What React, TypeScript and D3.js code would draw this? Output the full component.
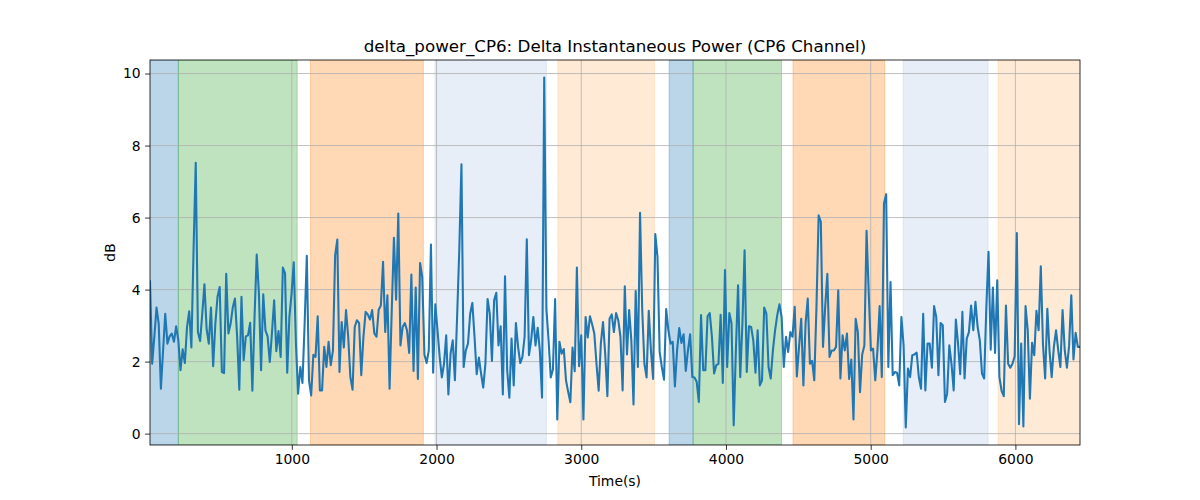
import { useEffect, useRef } from "react";
import * as d3 from "d3";

// sampling of the signal (seconds)
const START_TIME = 20;
const SAMPLE_STEP = 15.05;

// delta power values (dB)
const deltaPower: number[] = [
    4.23, 1.94, 2.7, 3.5, 3.05, 1.25, 2.3, 3.33, 2.5, 2.7,
    2.78, 2.55, 2.98, 2.6, 1.76, 2.34, 1.96, 2.96, 3.4, 2.39,
    5.1, 7.52, 2.82, 2.57, 3.33, 4.15, 2.9, 2.5, 3.5, 1.87,
    3.05, 3.8, 4.07, 1.71, 1.68, 4.44, 2.78, 3.05, 3.5, 3.75,
    2.7, 1.22, 3.8, 2.04, 2.7, 2.73, 3.08, 1.19, 3.24, 4.97,
    3.9, 1.76, 3.87, 2.87,
    2.7, 1.99, 2.8, 3.7, 2.29, 2.85, 2.13, 4.61, 4.46, 1.69,
    3.24, 3.89, 4.76, 2.5, 1.11, 1.85, 1.41, 3.05, 4.94, 1.48,
    1.06, 2.19, 2.13, 3.26, 1.2, 1.2, 2.41, 1.85, 2.55, 1.9,
    2.31, 4.95, 5.39, 1.71, 3.1, 2.39, 3.43, 2.69, 1.57, 1.22,
    2.96, 3.15, 3.07, 1.62, 2.69, 3.38, 3.31, 3.17, 3.43, 2.78,
    2.69, 3.44, 3.56,
    4.77, 2.82, 3.84, 1.25, 3.43, 5.44, 3.72, 6.11, 2.45, 2.96,
    3.07, 2.87, 2.24, 4.42, 1.74, 4.06, 1.52, 4.74, 4.35, 2.2,
    1.96, 2.31, 5.25, 1.69, 3.59, 2.87, 2.13, 1.56, 1.94, 2.73,
    1.09, 2.22, 2.59, 1.48, 3.24, 5.09, 7.48, 1.85, 2.31, 2.5,
    3.33, 3.63, 2.69, 1.65, 2.11, 1.67, 1.28, 1.94, 3.74, 3.33,
    2.02, 3.7, 3.91, 2.45,
    2.98, 1.09, 4.37, 1.76, 1.0, 2.64, 1.34, 3.07, 2.41, 1.96,
    2.13, 2.69, 5.4, 2.18, 2.59, 3.24, 2.45, 2.94, 2.3, 1.0,
    9.89, 3.47, 2.59, 1.56, 1.78, 3.74, 0.39, 2.55, 2.22, 2.35,
    1.48, 1.16, 0.87, 2.39, 1.73, 4.61, 1.87, 2.73, 0.39, 3.24,
    2.67, 3.26, 3.04, 2.78, 1.94, 1.19, 2.5, 3.1, 2.22, 1.04,
    3.19, 3.31, 2.82, 3.35,
    3.15, 2.69, 1.2, 4.09, 2.2, 3.43, 2.59, 0.81, 3.96, 1.85,
    6.13, 3.44, 1.94, 1.56, 3.41, 2.31, 1.52, 5.54, 4.91, 2.27,
    1.85, 1.5, 3.46, 2.87, 2.5, 2.55, 1.31, 2.31, 2.93, 2.52,
    2.76, 1.74, 2.31, 2.76, 1.57, 1.56, 1.44, 0.88, 3.29, 1.76,
    1.76, 3.26, 3.35, 2.69, 1.67, 1.9, 1.94, 3.3, 1.41, 4.54,
    1.85, 3.35, 3.06, 0.23,
    2.31, 4.12, 1.57, 3.06, 5.09, 1.71, 2.98, 2.96, 2.59, 1.69,
    2.87, 1.34, 1.48, 3.5, 3.33, 1.85, 1.53, 2.31, 2.87, 3.29,
    3.59, 3.24, 1.85, 2.69, 2.27, 2.82, 2.69, 3.52, 1.59, 2.41,
    3.19, 1.34, 3.06, 3.75, 1.94, 2.02, 1.48, 3.52, 6.06, 5.88,
    2.41, 3.52, 4.44, 2.13, 2.31, 2.31, 2.41, 3.98, 1.53, 2.73,
    2.31, 2.78, 1.52, 2.06,
    0.39, 3.19, 2.82, 1.15, 2.2, 2.45, 5.63, 3.89, 2.31, 2.36,
    1.48, 2.31, 3.54, 1.57, 6.39, 6.65, 1.85, 4.21, 1.62, 1.71,
    1.69, 1.34, 3.24, 2.45, 0.17, 1.81, 1.57, 2.18, 2.2, 2.25,
    1.57, 1.25, 3.33, 1.2, 2.5, 2.5, 1.83, 3.54, 3.24, 1.62,
    3.07, 3.01, 0.88, 1.11, 2.45, 1.94, 1.2, 3.17, 2.5, 1.65,
    3.38, 1.53, 2.64, 2.82,
    3.56, 2.87, 3.66, 2.96, 2.59, 1.67, 1.53, 3.52, 5.05, 2.33,
    4.06, 2.24, 4.26, 1.57, 1.19, 1.04, 3.56, 1.94, 1.83, 1.94,
    2.15, 5.57, 0.26, 2.5, 0.2, 3.54, 2.87, 0.97, 2.52, 2.18,
    3.41, 2.87, 4.65, 2.48, 1.53, 3.47, 2.3, 1.57, 2.41, 2.87,
    2.31, 1.85, 3.43, 2.31, 1.83, 2.45, 3.84, 2.06, 2.8, 2.41,
    2.41,
];

// shaded segments: start / end time (s) and colour
const bandStarts = [0, 216, 1129, 1989, 2838, 3607, 3773, 4463, 5225, 5880];
const bandEnds = [216, 1037, 1909, 2759, 3506, 3773, 4384, 5097, 5811, 6600];
const bandColors = [
    "#1f77b4", "#2ca02c", "#ff7f0e", "#aec7e8", "#ffbb78",
    "#1f77b4", "#2ca02c", "#ff7f0e", "#aec7e8", "#ffbb78",
];

const xTicks = [1000, 2000, 3000, 4000, 5000, 6000];
const yTicks = [0, 2, 4, 6, 8, 10];

const FONT = "DejaVu Sans, sans-serif";

export default function App() {
    const chartRef = useRef<SVGSVGElement>(null);

    useEffect(() => {
        document.body.style.margin = "0";
        if (!chartRef.current) return;

        d3.select(chartRef.current).selectAll("*").remove();

        const W = 1200;
        const H = 500;
        const margin = { top: 60, right: 120, bottom: 55, left: 150 };
        const width = W - margin.left - margin.right;
        const height = H - margin.top - margin.bottom;

        const points = deltaPower.map((v, i) => ({ t: START_TIME + i * SAMPLE_STEP, v }));

        const svg = d3
            .select(chartRef.current)
            .attr("width", W)
            .attr("height", H)
            .style("font-family", FONT);

        svg.append("rect").attr("width", W).attr("height", H).attr("fill", "#fff");

        const g = svg.append("g").attr("transform", `translate(${margin.left},${margin.top})`);

        // x spans data, y gets matplotlib's 5% margin
        const x = d3
            .scaleLinear()
            .domain(d3.extent(points, (d) => d.t) as [number, number])
            .range([0, width]);
        const [vMin, vMax] = d3.extent(deltaPower) as [number, number];
        const pad = (vMax - vMin) * 0.05;
        const y = d3.scaleLinear().domain([vMin - pad, vMax + pad]).range([height, 0]);

        g.append("clipPath")
            .attr("id", "plot-clip")
            .append("rect")
            .attr("width", width)
            .attr("height", height);

        const plot = g.append("g").attr("clip-path", "url(#plot-clip)");

        // shaded segments
        plot.selectAll(".band")
            .data(bandStarts)
            .enter()
            .append("rect")
            .attr("class", "band")
            .attr("x", (d) => x(d))
            .attr("width", (d, i) => x(bandEnds[i]) - x(d))
            .attr("y", 0)
            .attr("height", height)
            .attr("fill", (d, i) => bandColors[i])
            .attr("fill-opacity", 0.3)
            .attr("stroke", (d, i) => bandColors[i])
            .attr("stroke-opacity", 0.3)
            .attr("stroke-width", 1);

        // grid
        plot.selectAll(".xgrid")
            .data(xTicks)
            .enter()
            .append("line")
            .attr("x1", (d) => x(d))
            .attr("x2", (d) => x(d))
            .attr("y1", 0)
            .attr("y2", height)
            .attr("stroke", "#b0b0b0")
            .attr("stroke-width", 0.8);

        plot.selectAll(".ygrid")
            .data(yTicks)
            .enter()
            .append("line")
            .attr("x1", 0)
            .attr("x2", width)
            .attr("y1", (d) => y(d))
            .attr("y2", (d) => y(d))
            .attr("stroke", "#b0b0b0")
            .attr("stroke-width", 0.8);

        // signal
        const line = d3
            .line<{ t: number; v: number }>()
            .x((d) => x(d.t))
            .y((d) => y(d.v));

        plot.append("path")
            .datum(points)
            .attr("d", line)
            .attr("fill", "none")
            .attr("stroke", "#1f77b4")
            .attr("stroke-width", 2.08)
            .attr("stroke-linejoin", "round")
            .attr("stroke-linecap", "square");

        // axes
        const xAxis = g
            .append("g")
            .attr("transform", `translate(0,${height})`)
            .call(d3.axisBottom(x).tickValues(xTicks).tickSize(4.9).tickPadding(4.5).tickFormat(d3.format("d")));
        const yAxis = g
            .append("g")
            .call(d3.axisLeft(y).tickValues(yTicks).tickSize(4.9).tickPadding(4.5).tickFormat(d3.format("d")));

        [xAxis, yAxis].forEach((ax) => {
            ax.select(".domain").remove();
            ax.selectAll("line").attr("stroke", "#000").attr("stroke-width", 0.8);
            ax.selectAll("text")
                .attr("fill", "#000")
                .style("font-size", "13.9px")
                .style("font-family", FONT);
        });

        // frame
        g.append("rect")
            .attr("width", width)
            .attr("height", height)
            .attr("fill", "none")
            .attr("stroke", "#000")
            .attr("stroke-width", 0.8);

        // labels
        svg.append("text")
            .attr("x", margin.left + width / 2)
            .attr("y", margin.top - 8.5)
            .attr("text-anchor", "middle")
            .style("font-size", "16.7px")
            .text("delta_power_CP6: Delta Instantaneous Power (CP6 Channel)");

        svg.append("text")
            .attr("x", margin.left + width / 2)
            .attr("y", 486)
            .attr("text-anchor", "middle")
            .style("font-size", "13.9px")
            .text("Time(s)");

        svg.append("text")
            .attr("transform", `translate(115,${margin.top + height / 2}) rotate(-90)`)
            .attr("text-anchor", "middle")
            .style("font-size", "13.9px")
            .text("dB");
    }, []);

    return <svg ref={chartRef} style={{ display: "block" }} />;
}
